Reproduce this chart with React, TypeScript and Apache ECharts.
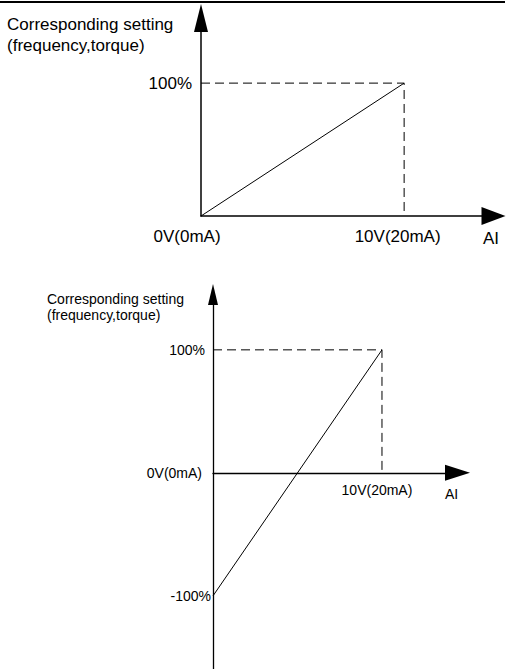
import React, { useEffect, useRef } from "react";
import * as echarts from "echarts";

// ---- Data ----
// Upper chart: 0V..10V maps to 0%..100%
const topLineX = [0, 10];
const topLineY = [0, 100];
const topGuideX = [0, 10, 10];
const topGuideY = [100, 100, 0];
const topXTicks = [0, 10];
const topXTickLabels = ["0V(0mA)", "10V(20mA)"];
const topYTicks = [100];
const topYTickLabels = ["100%"];

// Lower chart: 0V..10V maps to -100%..100%
const botLineX = [0, 10];
const botLineY = [-100, 100];
const botGuideX = [0, 10, 10];
const botGuideY = [100, 100, 0];
const botXTicks = [10];
const botXTickLabels = ["10V(20mA)"];
const botYTicks = [-100, 0, 100];
const botYTickLabels = ["-100%", "0V(0mA)", "100%"];

const titleLines = ["Corresponding setting", "(frequency,torque)"];
const xName = "AI";

const FONT = '"Liberation Sans", Arial, sans-serif';

// lower y-axis range (0 sits in the middle of the plot)
const BOT_Y_MIN = -160;
const BOT_Y_MAX = 145;
const BOT_GRID_TOP = 294.5;
const BOT_GRID_H = 375.2;

function zip(xs: number[], ys: number[]) {
  return xs.map((x, i) => [x, ys[i]]);
}

export default function App() {
  const ref = useRef<HTMLDivElement>(null);
  useEffect(() => {
    if (!ref.current) return;
    const chart = echarts.init(ref.current, null, { renderer: "svg" });

    const topXStyleKeys = ["t0", "t1"];
    const topXPads = [28, 13];
    const botYStyleKeys = ["b0", "b1", "b2"];
    const botYPads = [0, 9, 6];

    const topRich: any = {};
    topXStyleKeys.forEach((k, i) => {
      topRich[k] = { fontSize: 17, fontFamily: FONT, color: "#000", padding: [0, topXPads[i], 0, 0] };
    });
    const botRich: any = {};
    botYStyleKeys.forEach((k, i) => {
      botRich[k] = { fontSize: 14, fontFamily: FONT, color: "#000", padding: [0, botYPads[i], 0, 0] };
    });

    // distance from the lower grid's bottom edge up to the value 0
    const zeroOffset = (BOT_GRID_H * (0 - BOT_Y_MIN)) / (BOT_Y_MAX - BOT_Y_MIN);

    const option: any = {
      animation: false,
      backgroundColor: "#fff",
      grid: [
        { left: 201, top: 18, width: 292.5, height: 198, outerBoundsMode: "none", containLabel: false },
        {
          left: 213,
          top: BOT_GRID_TOP,
          width: 244.5,
          height: BOT_GRID_H,
          outerBoundsMode: "none",
          containLabel: false,
        },
      ],
      xAxis: [
        {
          gridIndex: 0,
          type: "value",
          min: 0,
          max: 14.4,
          splitLine: { show: false },
          axisTick: { show: false },
          axisLine: {
            show: true,
            onZero: true,
            lineStyle: { color: "#000", width: 1.5 },
            symbol: ["none", "triangle"],
            symbolSize: [18, 24],
          },
          axisLabel: {
            customValues: topXTicks,
            margin: 12,
            fontSize: 17,
            lineHeight: 17,
            fontFamily: FONT,
            color: "#000",
            rich: topRich,
            formatter: (v: number) => {
              const i = topXTicks.indexOf(v);
              return i < 0 ? "" : `{${topXStyleKeys[i]}|${topXTickLabels[i]}}`;
            },
          },
          name: xName,
          nameLocation: "end",
          nameGap: -10.5,
          nameTextStyle: {
            fontSize: 17,
            fontFamily: FONT,
            color: "#000",
            align: "left",
            verticalAlign: "top",
            padding: [14, 0, 0, 0],
          },
        },
        {
          gridIndex: 1,
          type: "value",
          min: 0,
          max: 14.47,
          position: "bottom",
          offset: -zeroOffset,
          splitLine: { show: false },
          axisTick: { show: false },
          axisLine: {
            show: true,
            onZero: false,
            lineStyle: { color: "#000", width: 1.3 },
            symbol: ["none", "triangle"],
            symbolSize: [16, 25],
          },
          axisLabel: {
            customValues: botXTicks,
            margin: 10,
            fontSize: 14,
            lineHeight: 14,
            fontFamily: FONT,
            color: "#000",
            padding: [0, 10, 0, 0],
            formatter: (v: number) => {
              const i = botXTicks.indexOf(v);
              return i < 0 ? "" : botXTickLabels[i];
            },
          },
          name: xName,
          nameLocation: "end",
          nameGap: -12.5,
          nameTextStyle: {
            fontSize: 14,
            fontFamily: FONT,
            color: "#000",
            align: "left",
            verticalAlign: "top",
            padding: [14, 0, 0, 0],
          },
        },
      ],
      yAxis: [
        {
          gridIndex: 0,
          type: "value",
          min: 0,
          max: 149,
          splitLine: { show: false },
          axisTick: { show: false },
          axisLine: {
            show: true,
            onZero: true,
            lineStyle: { color: "#000", width: 1.5 },
            symbol: ["none", "triangle"],
            symbolSize: [14, 28],
          },
          axisLabel: {
            customValues: topYTicks,
            margin: 9,
            fontSize: 17,
            fontFamily: FONT,
            color: "#000",
            formatter: (v: number) => {
              const i = topYTicks.indexOf(v);
              return i < 0 ? "" : topYTickLabels[i];
            },
          },
        },
        {
          gridIndex: 1,
          type: "value",
          min: BOT_Y_MIN,
          max: BOT_Y_MAX,
          splitLine: { show: false },
          axisTick: { show: false },
          axisLine: {
            show: true,
            onZero: true,
            lineStyle: { color: "#000", width: 1.3 },
            symbol: ["none", "triangle"],
            symbolSize: [10, 21],
          },
          axisLabel: {
            customValues: botYTicks,
            margin: 2,
            fontSize: 14,
            fontFamily: FONT,
            color: "#000",
            rich: botRich,
            formatter: (v: number) => {
              const i = botYTicks.indexOf(v);
              return i < 0 ? "" : `{${botYStyleKeys[i]}|${botYTickLabels[i]}}`;
            },
          },
        },
      ],
      series: [
        {
          type: "line",
          xAxisIndex: 0,
          yAxisIndex: 0,
          data: zip(topGuideX, topGuideY),
          symbol: "none",
          silent: true,
          lineStyle: { color: "#000", width: 1, type: [9, 5] },
        },
        {
          type: "line",
          xAxisIndex: 0,
          yAxisIndex: 0,
          data: zip(topLineX, topLineY),
          symbol: "none",
          silent: true,
          lineStyle: { color: "#000", width: 1 },
        },
        {
          type: "line",
          xAxisIndex: 1,
          yAxisIndex: 1,
          data: zip(botGuideX, botGuideY),
          symbol: "none",
          silent: true,
          lineStyle: { color: "#000", width: 1, type: [9, 5] },
        },
        {
          type: "line",
          xAxisIndex: 1,
          yAxisIndex: 1,
          data: zip(botLineX, botLineY),
          symbol: "none",
          silent: true,
          lineStyle: { color: "#000", width: 1 },
        },
      ],
      graphic: [
        { type: "rect", left: 0, top: 1, shape: { width: 505, height: 2 }, style: { fill: "#000" } },
        {
          type: "text",
          x: 7,
          y: 24,
          style: { text: titleLines[0], font: `17px ${FONT}`, fill: "#000", verticalAlign: "middle" },
        },
        {
          type: "text",
          x: 7,
          y: 45,
          style: { text: titleLines[1], font: `17px ${FONT}`, fill: "#000", verticalAlign: "middle" },
        },
        {
          type: "text",
          x: 47,
          y: 299,
          style: { text: titleLines[0], font: `14px ${FONT}`, fill: "#000", verticalAlign: "middle" },
        },
        {
          type: "text",
          x: 47,
          y: 315,
          style: { text: titleLines[1], font: `14px ${FONT}`, fill: "#000", verticalAlign: "middle" },
        },
      ],
    };
    chart.setOption(option);
    return () => chart.dispose();
  }, []);

  return (
    <div
      ref={ref}
      style={{ position: "fixed", left: 0, top: 0, width: 507, height: 669, background: "#fff" }}
    />
  );
}
